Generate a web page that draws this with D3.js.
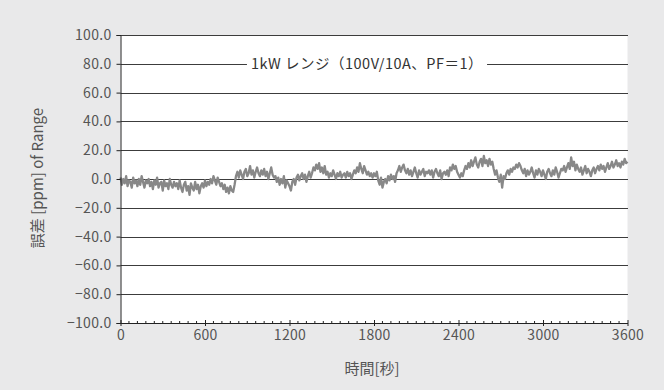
<!DOCTYPE html>
<html lang="ja">
<head>
<meta charset="UTF-8">
<script src="https://d3js.org/d3.v7.min.js"></script>
<style>
  html, body { margin: 0; padding: 0; background: #e9e9ea; }
  #chart { width: 664px; height: 390px; }
  text { font-family: 'Noto Sans CJK JP', 'Noto Sans', sans-serif; fill: #4a4a4a; }
</style>
</head>
<body>
<div id="chart"></div>
<script>
// ---- data ----
var chartTitle = '1kW レンジ（100V/10A、PF＝1）';
var xLabel = '時間[秒]';
var yLabel = '誤差 [ppm] of Range';
var xTicks = [0, 600, 1200, 1800, 2400, 3000, 3600];
var yTicks = [-100, -80, -60, -40, -20, 0, 20, 40, 60, 80, 100];
var sampleStep = 10; // seconds between samples

// error in ppm of range, one value every 10 s from 0 to 3600 s (20 per row = 200 s)
var errorPpm = [
   1, -4,  0, -3,  2, -5, -1, -2, -6,  1, -3, -1, -5,  0, -4,  2, -2, -6, -1, -3,
   0, -5, -2, -7, -1, -4,  1, -6, -3, -2, -8, -1, -5, -3, -7,  0, -4, -6, -2, -5,
  -3, -7, -1, -6, -9, -4, -2, -8, -5,-11, -3, -6, -8, -2, -7, -4,-10, -5, -3, -6,
  -1, -5, -2, -4,  0, -3,  2, -1, -4,  1, -2, -5, -3, -7, -4, -9, -6,-10, -5, -8,
  -9, -4,  2,  5,  1,  6,  3,  0,  5,  7,  2,  4,  9,  3,  6,  1,  5,  8,  4,  2,
   6,  3,  7,  2,  5,  0,  4,  8,  3,  1,  2, -2,  1, -4,  0, -3,  2, -6, -1, -3,
  -5, -8, -2,  0, -4,  1,  3, -1,  2,  4,  0,  3, -2,  2,  5,  1,  4,  8,  6, 10,
   7, 11,  5,  8,  4,  9,  3,  5,  1,  4,  2,  6,  3,  0,  4,  2,  5,  1,  3,  4,
   1,  5,  2,  4,  0,  3,  6,  4,  8,  5, 11,  7,  4,  9,  6,  3,  5,  2,  4,  1,
   4,  2,  5, -1, -4,  1, -6, -2,  0, -3,  2, -1,  3,  0,  2, -2,  4,  6,  9,  5,
   8, 10,  6,  4,  7,  3,  6,  2,  5,  8,  4,  1,  6,  3,  5,  7,  2,  5,  4,  6,
   3,  6,  1,  5,  7,  4,  2,  6,  0,  4,  5,  3,  6,  2,  8,  6, 10,  7,  9,  5,
   3,  1,  4,  2,  6,  9,  7, 11,  8, 13,  9, 12, 15, 10,  8, 12, 14,  9, 16, 11,
  13,  9, 14, 10, 12,  7,  3,  6,  1, -2,  3, -6,  2,  0,  4,  6,  3,  7,  5,  8,
   7, 10,  8, 11,  9,  6,  4,  7,  2,  6,  3,  5,  8,  4,  1,  6,  3,  7,  5,  2,
   6,  3,  0,  5,  7,  4,  2,  6,  3,  8,  5,  1,  4,  7,  6,  9,  5,  8, 11,  7,
  15,  9, 12,  6, 10,  7,  5,  8,  3,  6,  9,  4,  7,  5,  2,  6,  8,  4,  7,  9,
   6, 10,  7,  9,  5,  8, 11,  7,  9, 12,  8, 10, 13,  9, 11,  8, 12, 10, 14, 11,
  12
];

// ---- layout ----
var width = 664, height = 390;
var plotLeft = 120.5, plotRight = 627.5, plotTop = 35, plotBottom = 323;

var svg = d3.select('#chart').append('svg')
  .attr('width', width)
  .attr('height', height);

var x = d3.scaleLinear().domain([0, 3600]).range([plotLeft, plotRight]);
var y = d3.scaleLinear().domain([-100, 100]).range([plotBottom, plotTop]);

// white plot area
svg.append('rect')
  .attr('x', plotLeft)
  .attr('y', plotTop)
  .attr('width', plotRight - plotLeft)
  .attr('height', plotBottom - plotTop)
  .style('fill', '#fff');

// horizontal grid lines
svg.append('g').selectAll('line')
  .data(yTicks)
  .enter().append('line')
  .attr('x1', plotLeft)
  .attr('x2', plotRight + 0.5)
  .attr('y1', function(d) { return Math.round(y(d)) + 0.5; })
  .attr('y2', function(d) { return Math.round(y(d)) + 0.5; })
  .style('stroke', '#3c3c3c')
  .style('stroke-width', 1);

// series
var line = d3.line()
  .x(function(d, i) { return x(i * sampleStep); })
  .y(function(d) { return y(d); });

svg.append('path')
  .datum(errorPpm)
  .attr('d', line)
  .style('fill', 'none')
  .style('stroke', '#888888')
  .style('stroke-width', 2.3)
  .style('stroke-linejoin', 'round');

// title sitting on the 80 grid line
var titleBg = svg.append('rect').style('fill', '#fff');
var title = svg.append('text')
  .attr('x', x(1800) - 7)
  .attr('y', y(80))
  .attr('dy', '0.36em')
  .style('text-anchor', 'middle')
  .style('font-size', '14.5px')
  .style('letter-spacing', '0.5px')
  .style('fill', '#333')
  .text(chartTitle);
var tb = title.node().getBBox();
titleBg
  .attr('x', tb.x - 4)
  .attr('y', tb.y)
  .attr('width', tb.width + 8)
  .attr('height', tb.height);

// y axis
var yAxis = d3.axisLeft(y)
  .tickValues(yTicks)
  .tickSize(4)
  .tickFormat(d3.format('.1f'));

var gy = svg.append('g')
  .attr('transform', 'translate(' + plotLeft + ',0)')
  .call(yAxis);
gy.select('.domain').style('stroke', '#222');
gy.selectAll('.tick line').style('stroke', '#222');
gy.selectAll('.tick text')
  .attr('x', -9)
  .style('font-size', '14px')
  .style('letter-spacing', '0.3px')
  .style('font-family', "'Noto Sans CJK JP', sans-serif")
  .style('fill', '#555');

// x axis
var xAxis = d3.axisBottom(x)
  .tickValues(xTicks)
  .tickSizeInner(3)
  .tickSizeOuter(0)
  .tickFormat(d3.format('d'));

var gx = svg.append('g')
  .attr('transform', 'translate(0,' + plotBottom + ')')
  .call(xAxis);
gx.select('.domain').style('stroke', '#222');
gx.selectAll('.tick line')
  .attr('y1', -3)
  .style('stroke', '#222');
gx.selectAll('.tick text')
  .attr('y', 7)
  .style('font-size', '14px')
  .style('letter-spacing', '0.3px')
  .style('font-family', "'Noto Sans CJK JP', sans-serif")
  .style('fill', '#555');

// minor ticks every 60 s, pointing up
gx.append('g').selectAll('line')
  .data(d3.range(60, 3600, 60).filter(function(d) { return d % 600 !== 0; }))
  .enter().append('line')
  .attr('x1', function(d) { return x(d); })
  .attr('x2', function(d) { return x(d); })
  .attr('y1', 0)
  .attr('y2', -2)
  .style('stroke', '#222');

// axis titles
svg.append('text')
  .attr('x', x(1800) - 2)
  .attr('y', 374)
  .style('text-anchor', 'middle')
  .style('font-size', '15px')
  .style('fill', '#555')
  .text(xLabel);

svg.append('text')
  .attr('transform', 'translate(43,' + ((plotTop + plotBottom) / 2 - 1) + ') rotate(-90)')
  .style('text-anchor', 'middle')
  .style('font-size', '15px')
  .style('fill', '#555')
  .text(yLabel);
</script>
</body>
</html>
